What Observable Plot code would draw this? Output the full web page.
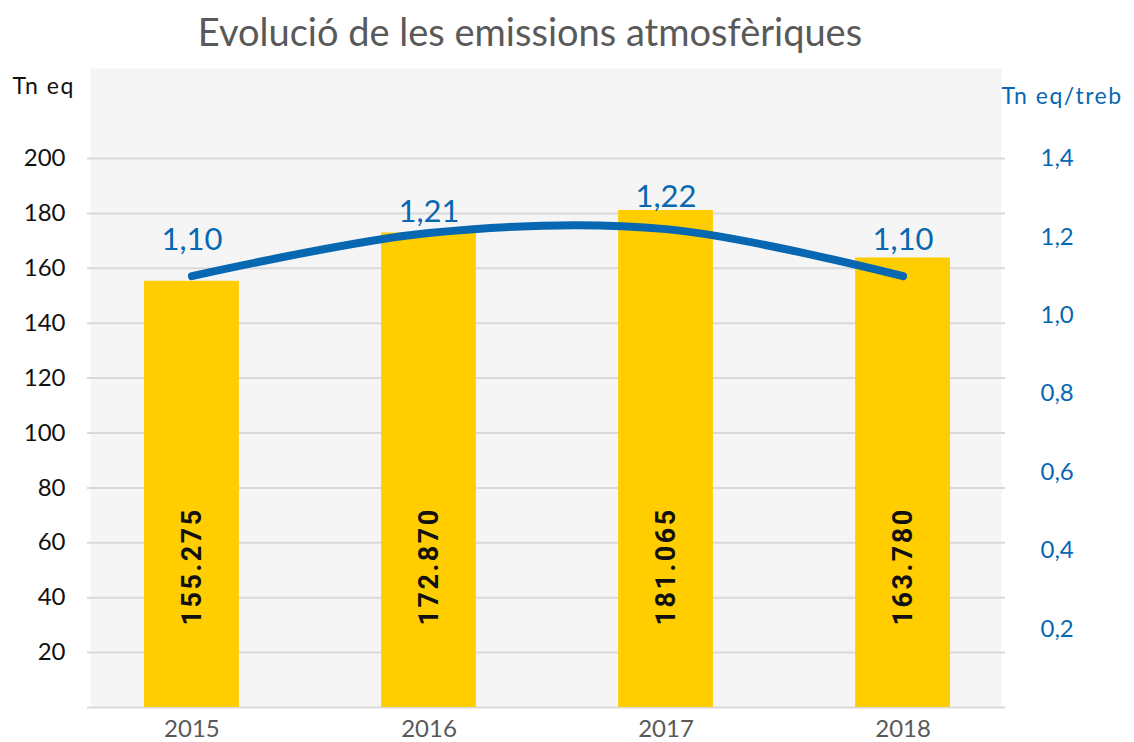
<!DOCTYPE html>
<html>
<head>
<meta charset="utf-8">
<script src="https://cdn.jsdelivr.net/npm/d3@7"></script>
<script src="https://cdn.jsdelivr.net/npm/@observablehq/plot@0.6"></script>
<style>
  html, body { margin: 0; padding: 0; background: #ffffff; }
  #title { width: 1060px; height: 62px; line-height: 62px; text-align: center;
           font-family: Lato, sans-serif; font-size: 38px; color: #595959; white-space: nowrap; }
  g[font-family^="Roboto"] text { letter-spacing: 2.5px; }
  g[font-size="23"] text { letter-spacing: 1.5px; }
</style>
</head>
<body>
<div id="title">Evolució de les emissions atmosfèriques</div>
<div id="chart"></div>
<script>
// Data
const years = ["2015", "2016", "2017", "2018"];
const emissions = [155275, 172870, 181065, 163780];   // Tn eq
const perWorker = [1.10, 1.21, 1.22, 1.10];            // Tn eq/treb
const leftTicks = [20000, 40000, 60000, 80000, 100000, 120000, 140000, 160000, 180000, 200000];
const rightTicks = [0.2, 0.4, 0.6, 0.8, 1.0, 1.2, 1.4];
const gridTicks = [0, 20000, 40000, 60000, 80000, 100000, 120000, 140000, 160000, 180000, 200000];

const rows = years.map((y, i) => ({year: y, value: emissions[i], ratio: perWorker[i]}));

// right-axis values share the y scale: 1,4 aligns with 200
const factor = 200000 / 1.4;

const loc = d3.formatLocale({decimal: ",", thousands: ".", grouping: [3], currency: ["", " €"]});
const fmtThousands = loc.format(",d");
const fmt1 = loc.format(".1f");
const fmt2 = loc.format(".2f");

const blue = "#0867b1";
const yellow = "#ffcd00";
const font = "Lato, sans-serif";

const labelMarks = years.map((yr) => Plot.text(rows.filter(d => d.year === yr), {
  x: "year", y: d => d.ratio * factor, text: d => fmt2(d.ratio),
  dy: yr === "2016" ? -21 : (yr === "2017" ? -32 : -36),
  fill: blue, fontSize: 31, fontFamily: font, lineAnchor: "middle"
}));

const chart = Plot.plot({
  width: 1134,
  height: 680,
  marginTop: 6,
  marginBottom: 35,
  marginLeft: 90,
  marginRight: 133,
  style: {fontFamily: font, background: "transparent", overflow: "visible"},
  x: {domain: years, range: [90, 1004], paddingInner: 0.6, paddingOuter: 0.228, round: false},
  y: {domain: [0, 232800]},
  marks: [
    Plot.frame({fill: "#f5f5f5", stroke: "none"}),
    Plot.ruleY(gridTicks, {y: d => d, stroke: "#d9d9d9", strokeWidth: 2, insetLeft: -3, insetRight: -4}),
    Plot.barY(rows, {x: "year", y: "value", fill: yellow}),
    Plot.text(rows, {
      x: "year", text: d => fmtThousands(d.value), frameAnchor: "bottom", dy: -82,
      rotate: -90, textAnchor: "start", lineAnchor: "middle",
      fontSize: 27, fontWeight: "bold", fontFamily: "Roboto, sans-serif", fill: "#111"
    }),
    Plot.line(rows, {
      x: "year", y: d => d.ratio * factor, stroke: blue, strokeWidth: 8,
      curve: "catmull-rom", strokeLinecap: "round", strokeLinejoin: "round"
    }),
    ...labelMarks,
    Plot.axisY({anchor: "left", ticks: leftTicks, tickFormat: d => String(d / 1000), tickSize: 0,
      tickPadding: 25, fontSize: 24, fill: "#111", label: null}),
    Plot.axisY({anchor: "right", ticks: rightTicks.map(v => v * factor), tickFormat: d => fmt1(d / factor),
      tickSize: 0, tickPadding: 39, fontSize: 24, fill: blue, label: null}),
    Plot.axisX({tickSize: 0, tickPadding: 12, fontSize: 24, fill: "#595959", label: null}),
    Plot.text(["Tn eq"], {frameAnchor: "top-left", dx: -78, dy: 18, textAnchor: "start",
      lineAnchor: "middle", fontSize: 23, fill: "#111"}),
    Plot.text(["Tn eq/treb"], {frameAnchor: "top-right", dx: 0, dy: 28, textAnchor: "start",
      lineAnchor: "middle", fontSize: 23, fill: blue})
  ]
});
document.getElementById("chart").appendChild(chart);
</script>
</body>
</html>
